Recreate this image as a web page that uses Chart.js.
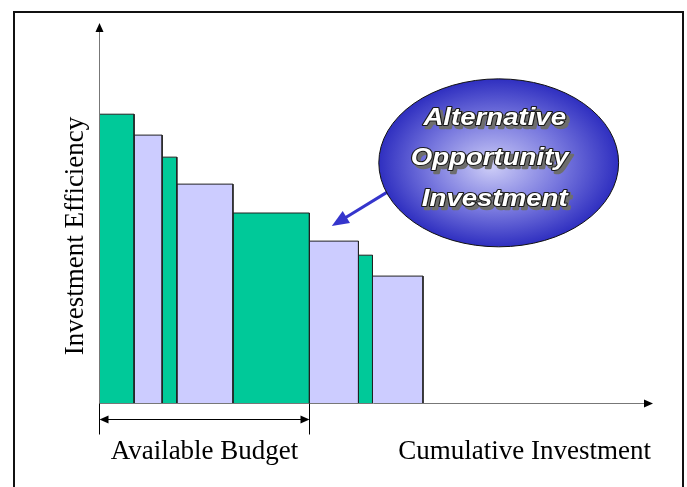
<!DOCTYPE html>
<html>
<head>
<meta charset="utf-8">
<script src="https://cdn.jsdelivr.net/npm/chart.js@4"></script>
<style>
  html, body { margin: 0; padding: 0; background: #fff; }
  canvas { display: block; }
</style>
</head>
<body>
<canvas id="chart" width="687" height="487"></canvas>
<script>
// data
const projects = ['P1', 'P2', 'P3', 'P4', 'P5', 'P6', 'P7', 'P8']
const investments = [5, 4, 2.1, 8, 10.9, 7, 2, 7.2]
const efficiencies = [76, 70.5, 64.7, 57.6, 50, 42.6, 38.9, 33.4]
const availableBudget = 30
const calloutLines = ['Alternative', 'Opportunity', 'Investment']
const xLabel = 'Cumulative Investment'
const yLabel = 'Investment Efficiency'
const budgetLabel = 'Available Budget'

// styles
const GREEN = '#00c999'
const LAVENDER = '#ccccff'
const SERIF = '"Liberation Serif", "Times New Roman", serif'
const SANS = '"Liberation Sans", Arial, sans-serif'

// callout, in data units
const callout = { x: 57, y: 63.2, rx: 17.1, ry: 22.1, fromX: 41.1, fromY: 55.5, toX: 33.2, toY: 46.6 }

// each bar is a closed step polygon on the linear axes
let start = 0
const datasets = investments.map((w, i) => {
  const x0 = start
  const x1 = start + w
  start = x1
  const h = efficiencies[i]
  return {
    label: projects[i],
    data: [{ x: x0, y: 0 }, { x: x0, y: h }, { x: x1, y: h }, { x: x1, y: 0 }],
    showLine: true,
    fill: 'origin',
    backgroundColor: i % 2 ? LAVENDER : GREEN,
    borderColor: '#222',
    borderWidth: 1,
    pointRadius: 0,
    tension: 0
  }
})

const arrowHead = (ctx, x, y, angle, len, half) => {
  ctx.save()
  ctx.translate(x, y)
  ctx.rotate(angle)
  ctx.beginPath()
  ctx.moveTo(0, 0)
  ctx.lineTo(-len, -half)
  ctx.lineTo(-len, half)
  ctx.closePath()
  ctx.fill()
  ctx.restore()
}

const decorations = {
  id: 'decorations',
  afterDraw(chart) {
    const { ctx, chartArea: area, scales: { x, y } } = chart
    ctx.save()

    // frame
    ctx.strokeStyle = '#111'
    ctx.lineWidth = 2
    ctx.strokeRect(14, 12, 669, 520)

    // axes
    const ox = Math.round(area.left) + 0.5
    const oy = Math.round(area.bottom) + 0.5
    ctx.strokeStyle = '#777'
    ctx.lineWidth = 1
    ctx.beginPath()
    ctx.moveTo(ox, oy)
    ctx.lineTo(area.right - 6, oy)
    ctx.moveTo(ox, oy)
    ctx.lineTo(ox, area.top + 6)
    ctx.stroke()
    ctx.fillStyle = '#000'
    arrowHead(ctx, area.right, oy, 0, 9, 4)
    arrowHead(ctx, ox, area.top, -Math.PI / 2, 9, 4)

    // available budget bracket
    const bx = Math.round(x.getPixelForValue(availableBudget)) + 0.5
    const by = oy + 16
    ctx.strokeStyle = '#000'
    ctx.beginPath()
    ctx.moveTo(ox, oy)
    ctx.lineTo(ox, oy + 31)
    ctx.moveTo(bx, oy)
    ctx.lineTo(bx, oy + 31)
    ctx.moveTo(ox + 6, by)
    ctx.lineTo(bx - 6, by)
    ctx.stroke()
    arrowHead(ctx, ox, by, Math.PI, 9, 4)
    arrowHead(ctx, bx, by, 0, 9, 4)

    // axis texts
    ctx.fillStyle = '#000'
    ctx.font = '27px ' + SERIF
    ctx.textBaseline = 'alphabetic'
    ctx.textAlign = 'center'
    ctx.fillText(budgetLabel, (ox + bx) / 2, 459)
    ctx.textAlign = 'right'
    ctx.fillText(xLabel, area.right - 2, 459)
    ctx.save()
    ctx.translate(83, 236)
    ctx.rotate(-Math.PI / 2)
    ctx.textAlign = 'center'
    ctx.fillText(yLabel, 0, 0)
    ctx.restore()

    // callout arrow
    const ax0 = x.getPixelForValue(callout.fromX)
    const ay0 = y.getPixelForValue(callout.fromY)
    const ax1 = x.getPixelForValue(callout.toX)
    const ay1 = y.getPixelForValue(callout.toY)
    const ang = Math.atan2(ay1 - ay0, ax1 - ax0)
    ctx.strokeStyle = '#3535cc'
    ctx.fillStyle = '#3535cc'
    ctx.lineWidth = 3
    ctx.beginPath()
    ctx.moveTo(ax0, ay0)
    ctx.lineTo(ax1 - Math.cos(ang) * 12, ay1 - Math.sin(ang) * 12)
    ctx.stroke()
    arrowHead(ctx, ax1, ay1, ang, 17, 7)

    // callout ellipse
    const cx = x.getPixelForValue(callout.x)
    const cy = y.getPixelForValue(callout.y)
    const rx = x.getPixelForValue(callout.x + callout.rx) - cx
    const ry = y.getPixelForValue(callout.y - callout.ry) - cy
    ctx.save()
    ctx.translate(cx, cy)
    ctx.scale(1, ry / rx)
    const grad = ctx.createRadialGradient(-8, 6, 0, 0, 0, rx)
    grad.addColorStop(0, '#cdcdf7')
    grad.addColorStop(0.55, '#7878de')
    grad.addColorStop(1, '#2f2fc0')
    ctx.beginPath()
    ctx.arc(0, 0, rx, 0, Math.PI * 2)
    ctx.fillStyle = grad
    ctx.fill()
    ctx.restore()
    ctx.beginPath()
    ctx.ellipse(cx, cy, rx, ry, 0, 0, Math.PI * 2)
    ctx.strokeStyle = '#111'
    ctx.lineWidth = 1
    ctx.stroke()

    // callout text, wide bold italic with outline and drop shadow
    ctx.font = 'italic bold 23px ' + SANS
    ctx.textAlign = 'center'
    ctx.lineJoin = 'round'
    calloutLines.forEach((line, i) => {
      const tx = cx - 4 - (i === 1 ? 5 : 0)
      const ty = cy - 38 + i * 40.5
      ctx.save()
      ctx.translate(tx, ty)
      ctx.scale(1.2, 1)
      ctx.fillStyle = '#6e6e6e'
      ctx.strokeStyle = '#6e6e6e'
      ctx.lineWidth = 2.5
      ctx.strokeText(line, 2.5, 3)
      ctx.fillText(line, 2.5, 3)
      ctx.strokeStyle = '#1a1a1a'
      ctx.lineWidth = 2
      ctx.strokeText(line, 0, 0)
      ctx.fillStyle = '#fff'
      ctx.fillText(line, 0, 0)
      ctx.restore()
    })

    ctx.restore()
  }
}

new Chart(document.getElementById('chart'), {
  type: 'scatter',
  data: { datasets },
  options: {
    responsive: false,
    animation: false,
    layout: { padding: { left: 99, right: 34, top: 23, bottom: 84 } },
    scales: {
      x: { type: 'linear', display: false, min: 0, max: 79 },
      y: { type: 'linear', display: false, min: 0, max: 100 }
    },
    plugins: {
      legend: { display: false },
      tooltip: { enabled: false }
    }
  },
  plugins: [decorations]
})
</script>
</body>
</html>
